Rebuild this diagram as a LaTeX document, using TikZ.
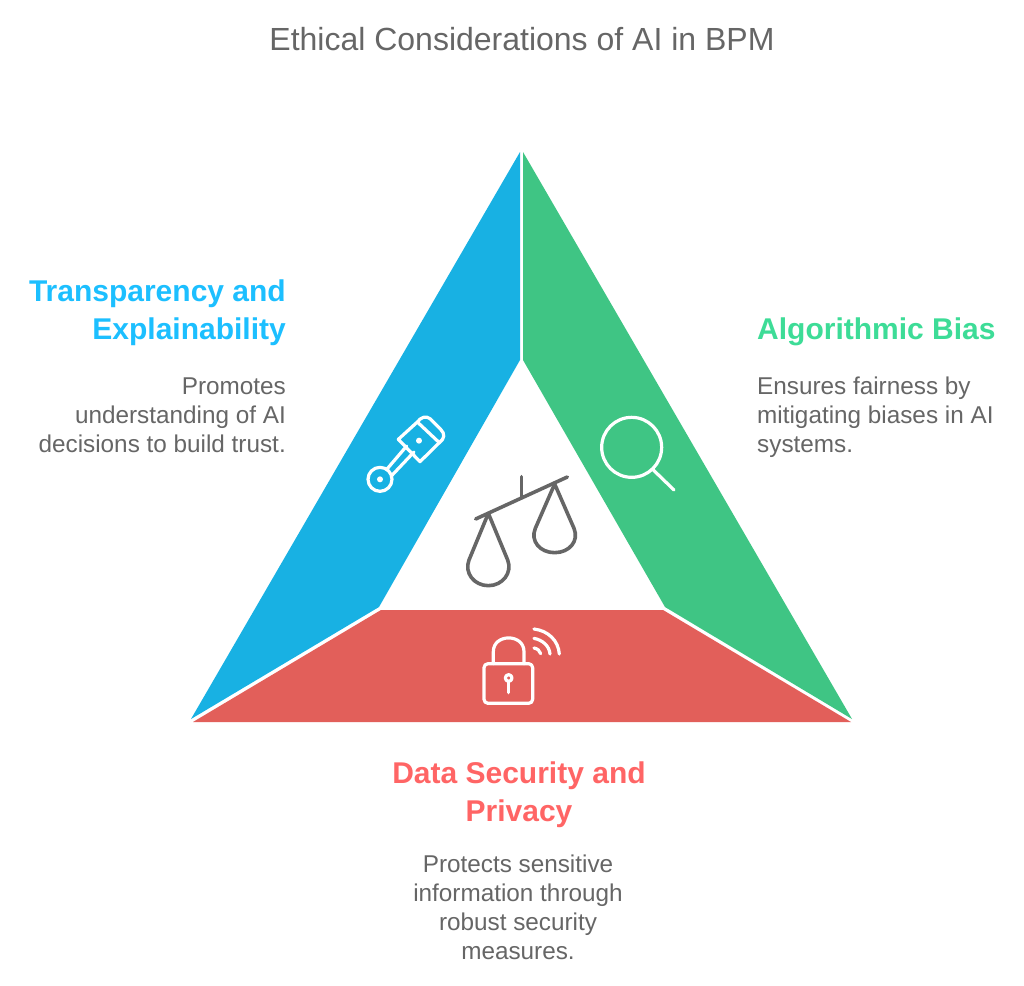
\documentclass[tikz,border=0pt]{standalone}
\usepackage{fontspec}
\setmainfont{Liberation Sans}
\definecolor{blueS}{HTML}{18B1E3}
\definecolor{greenS}{HTML}{3FC584}
\definecolor{redS}{HTML}{E25F5A}
\definecolor{blueT}{HTML}{1CBFFF}
\definecolor{greenT}{HTML}{3DDC97}
\definecolor{redT}{HTML}{FF6565}
\definecolor{grayT}{HTML}{666666}
\tikzset{
  head/.style={font=\fontsize{30}{38}\selectfont\bfseries,inner sep=0pt},
  body/.style={font=\fontsize{24.3}{29}\selectfont,text=grayT,inner sep=0pt},
  wicon/.style={draw=white,line width=3.2pt,line cap=round,line join=round},
  gicon/.style={draw=grayT,line width=3.6pt,line cap=round,line join=round},
  zoomed/.style={x=0.3333pt,y=-0.3333pt}
}
\begin{document}
\begin{tikzpicture}[x=1pt,y=-1pt]
\useasboundingbox (0,0) rectangle (1024,985);
\fill[white] (0,0) rectangle (1024,985);
% segments
\fill[blueS] (520,152) -- (520,360) -- (379,607) -- (191,719) -- cycle;
\fill[greenS] (523,152) -- (523,360) -- (665,607) -- (852,719) -- cycle;
\fill[redS] (193,722) -- (381,610) -- (663,610) -- (851,722) -- cycle;
% title
\node[inner sep=0pt,text=grayT,font=\fontsize{32}{38}\selectfont,anchor=base] (title) at (522,50) {Ethical Considerations of AI in BPM};
% left
\node[head,text=blueT,align=right,anchor=base east] (tl) at (286,339) {Transparency and\\Explainability};
\node[body,align=right,anchor=base east] (bl) at (286,452) {Promotes\\understanding of AI\\decisions to build trust.};
% right
\node[head,text=greenT,align=left,anchor=base west] (tr) at (757,339) {Algorithmic Bias};
\node[body,align=left,anchor=base west] (br) at (757,452) {Ensures fairness by\\mitigating biases in AI\\systems.};
% bottom
\node[head,text=redT,align=center,anchor=base] (tb) at (519,821) {Data Security and\\Privacy};
\node[body,align=center,anchor=base] (bb) at (518,959) {Protects sensitive\\information through\\robust security\\measures.};
% piston
\begin{scope}[shift={(350,400)},zoomed]
\draw[wicon] (90,238) circle (36);
\fill[white] (90,238) circle (9);
\draw[wicon] (112,206) -- (170,138);
\draw[wicon] (124,228) -- (192,156);
\draw[wicon] (145,118) -- (202,66) .. controls (212,52) and (228,46) .. (240,56) -- (272,88) .. controls (286,102) and (284,116) .. (268,128) -- (210,185) -- cycle;
\draw[wicon] (202,66) -- (268,128);
\fill[white] (207,122) circle (9);
\end{scope}
% scales
\begin{scope}[shift={(450,460)},zoomed]
\draw[gicon] (77,177) -- (352,51);
\draw[gicon] (214,50) -- (214,112);
\draw[gicon] (115,160) -- (57,300) .. controls (42,338) and (72,377) .. (115,377) .. controls (158,377) and (188,338) .. (173,300) -- cycle;
\draw[gicon] (314,72) -- (256,205) .. controls (240,243) and (270,278) .. (314,278) .. controls (358,278) and (388,243) .. (372,205) -- cycle;
\end{scope}
% magnifier
\begin{scope}[shift={(590,405)},zoomed]
\draw[wicon] (125,127) circle (90);
\draw[wicon] (190,195) -- (252,255);
\end{scope}
% lock
\begin{scope}[shift={(470,620)},zoomed]
\draw[wicon,rounded corners=4pt] (115,131) -- (42,131) -- (42,250) -- (188,250) -- (188,131) -- cycle;
\draw[wicon] (70,131) -- (70,95) .. controls (70,40) and (162,40) .. (162,95) -- (162,131);
\draw[wicon] (116,174) circle (10);
\draw[wicon] (116,186) -- (116,218);
\draw[wicon] (192,27) .. controls (235,32) and (265,62) .. (268,102);
\draw[wicon] (192,55) .. controls (218,60) and (238,78) .. (240,102);
\draw[wicon] (192,84) .. controls (202,86) and (210,92) .. (212,101);
\end{scope}
\end{tikzpicture}
\end{document}
